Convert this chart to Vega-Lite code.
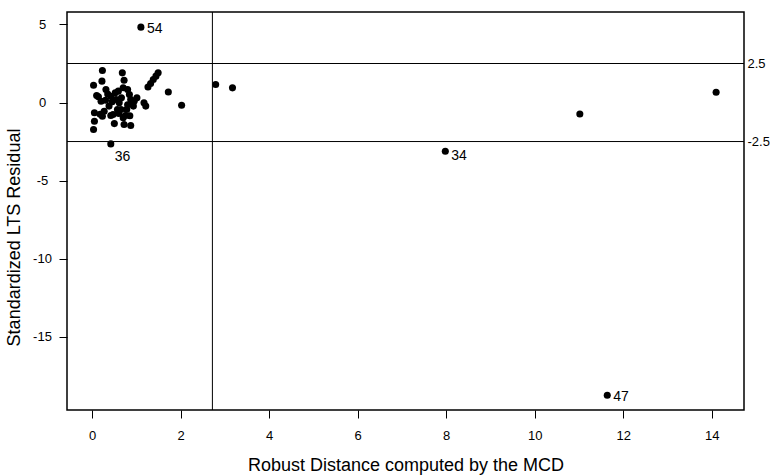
{
  "$schema": "https://vega.github.io/schema/vega-lite/v6.json",
  "width": 677,
  "height": 398,
  "autosize": {"type": "none"},
  "padding": {"left": 67, "top": 12, "right": 27, "bottom": 65},
  "background": "white",
  "config": {
    "font": "Liberation Sans",
    "view": {"stroke": "black", "strokeWidth": 1.5},
    "axis": {
      "grid": false,
      "domain": false,
      "tickColor": "black",
      "tickSize": 8,
      "tickWidth": 1,
      "labelColor": "black",
      "titleColor": "black",
      "labelFont": "Liberation Sans",
      "titleFont": "Liberation Sans",
      "labelFontSize": 13,
      "titleFontSize": 18,
      "titleFontWeight": "normal"
    }
  },
  "datasets": {
    "pts": [
      {"x": 0.03, "y": 1.11, "label": ""},
      {"x": 0.05, "y": -0.66, "label": ""},
      {"x": 0.05, "y": -1.2, "label": ""},
      {"x": 0.03, "y": -1.73, "label": ""},
      {"x": 0.14, "y": 0.37, "label": ""},
      {"x": 0.2, "y": 0.08, "label": ""},
      {"x": 0.22, "y": 1.37, "label": ""},
      {"x": 0.23, "y": 2.05, "label": ""},
      {"x": 0.23, "y": -0.88, "label": ""},
      {"x": 0.27, "y": -0.56, "label": ""},
      {"x": 0.31, "y": 0.83, "label": ""},
      {"x": 0.38, "y": -0.23, "label": ""},
      {"x": 0.42, "y": 0.4, "label": ""},
      {"x": 0.42, "y": -0.83, "label": ""},
      {"x": 0.47, "y": -0.77, "label": ""},
      {"x": 0.5, "y": -1.35, "label": ""},
      {"x": 0.54, "y": 0.19, "label": ""},
      {"x": 0.57, "y": -0.45, "label": ""},
      {"x": 0.59, "y": 0.73, "label": ""},
      {"x": 0.61, "y": -0.02, "label": ""},
      {"x": 0.65, "y": -0.45, "label": ""},
      {"x": 0.68, "y": 1.9, "label": ""},
      {"x": 0.7, "y": -0.98, "label": ""},
      {"x": 0.72, "y": 1.43, "label": ""},
      {"x": 0.72, "y": -1.41, "label": ""},
      {"x": 0.75, "y": -0.83, "label": ""},
      {"x": 0.78, "y": -0.45, "label": ""},
      {"x": 0.8, "y": 0.83, "label": ""},
      {"x": 0.84, "y": 0.51, "label": ""},
      {"x": 0.87, "y": 0.19, "label": ""},
      {"x": 0.87, "y": -1.47, "label": ""},
      {"x": 0.93, "y": -0.23, "label": ""},
      {"x": 1.01, "y": 0.3, "label": ""},
      {"x": 1.17, "y": -0.02, "label": ""},
      {"x": 1.21, "y": -0.23, "label": ""},
      {"x": 1.26, "y": 1.0, "label": ""},
      {"x": 1.32, "y": 1.22, "label": ""},
      {"x": 1.38, "y": 1.47, "label": ""},
      {"x": 1.44, "y": 1.69, "label": ""},
      {"x": 1.49, "y": 1.9, "label": ""},
      {"x": 1.72, "y": 0.68, "label": ""},
      {"x": 2.02, "y": -0.17, "label": ""},
      {"x": 2.79, "y": 1.15, "label": ""},
      {"x": 3.17, "y": 0.94, "label": ""},
      {"x": 0.1, "y": 0.45, "label": ""},
      {"x": 0.35, "y": 0.55, "label": ""},
      {"x": 0.52, "y": 0.62, "label": ""},
      {"x": 0.66, "y": 0.3, "label": ""},
      {"x": 0.9, "y": -0.05, "label": ""},
      {"x": 0.95, "y": 0.1, "label": ""},
      {"x": 0.6, "y": -0.7, "label": ""},
      {"x": 0.8, "y": -0.15, "label": ""},
      {"x": 0.45, "y": 0.05, "label": ""},
      {"x": 0.3, "y": 0.15, "label": ""},
      {"x": 0.85, "y": -0.85, "label": ""},
      {"x": 0.7, "y": 0.95, "label": ""},
      {"x": 0.18, "y": -0.75, "label": ""},
      {"x": 1.1, "y": 4.83, "label": "54"},
      {"x": 0.42, "y": -2.65, "label": "36"},
      {"x": 7.98, "y": -3.12, "label": "34"},
      {"x": 11.02, "y": -0.73, "label": ""},
      {"x": 14.1, "y": 0.66, "label": ""},
      {"x": 11.64, "y": -18.76, "label": "47"}
    ],
    "h": [{"y": 2.5}, {"y": -2.5}],
    "v": [{"x": 2.716}]
  },
  "layer": [
    {
      "data": {"name": "pts"},
      "mark": {"type": "point", "filled": true, "shape": "circle", "size": 50, "color": "black", "opacity": 1},
      "encoding": {
        "x": {
          "field": "x", "type": "quantitative",
          "scale": {"domain": [-0.57, 14.73], "nice": false, "zero": false},
          "axis": {"values": [0, 2, 4, 6, 8, 10, 12, 14], "title": "Robust Distance computed by the MCD", "labelPadding": 11, "titlePadding": 14, "labelFlush": false}
        },
        "y": {
          "field": "y", "type": "quantitative",
          "scale": {"domain": [-19.7, 5.8], "nice": false, "zero": false},
          "axis": {"values": [5, 0, -5, -10, -15], "title": "Standardized LTS Residual", "labelAlign": "center", "labelPadding": 17, "titlePadding": 9, "titleY": 225, "labelFlush": false,
            "labelExpr": "datum.value < 0 ? '-' + abs(datum.value) : '' + datum.value"}
        }
      }
    },
    {
      "data": {"name": "h"},
      "mark": {"type": "rule", "color": "black", "strokeWidth": 1},
      "encoding": {
        "y": {
          "field": "y", "type": "quantitative",
          "axis": {"orient": "right", "values": [2.5, -2.5], "ticks": false, "title": null, "labelAlign": "left", "labelPadding": 3, "labelFlush": false,
            "labelExpr": "datum.value < 0 ? '-' + format(abs(datum.value), '.1f') : format(datum.value, '.1f')"}
        }
      }
    },
    {
      "data": {"name": "v"},
      "mark": {"type": "rule", "color": "black", "strokeWidth": 1},
      "encoding": {
        "x": {"field": "x", "type": "quantitative", "axis": null}
      }
    },
    {
      "data": {"name": "pts"},
      "transform": [{"filter": "datum.label == '54' || datum.label == '47'"}],
      "mark": {"type": "text", "align": "left", "baseline": "middle", "dx": 6, "dy": 2, "fontSize": 14, "color": "black"},
      "encoding": {
        "x": {"field": "x", "type": "quantitative", "axis": null},
        "y": {"field": "y", "type": "quantitative", "axis": null},
        "text": {"field": "label"}
      }
    },
    {
      "data": {"name": "pts"},
      "transform": [{"filter": "datum.label == '34'"}],
      "mark": {"type": "text", "align": "left", "baseline": "middle", "dx": 6, "dy": 5, "fontSize": 14, "color": "black"},
      "encoding": {
        "x": {"field": "x", "type": "quantitative", "axis": null},
        "y": {"field": "y", "type": "quantitative", "axis": null},
        "text": {"field": "label"}
      }
    },
    {
      "data": {"name": "pts"},
      "transform": [{"filter": "datum.label == '36'"}],
      "mark": {"type": "text", "align": "left", "baseline": "middle", "dx": 4, "dy": 13, "fontSize": 14, "color": "black"},
      "encoding": {
        "x": {"field": "x", "type": "quantitative", "axis": null},
        "y": {"field": "y", "type": "quantitative", "axis": null},
        "text": {"field": "label"}
      }
    }
  ],
  "resolve": {"axis": {"x": "independent", "y": "independent"}}
}
